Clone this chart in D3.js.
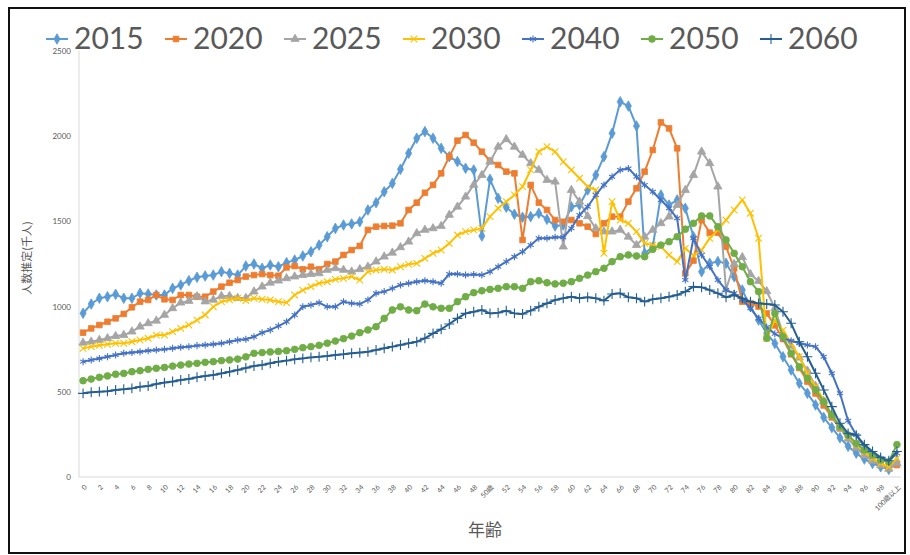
<!DOCTYPE html>
<html>
<head>
<meta charset="utf-8">
<script src="https://cdn.jsdelivr.net/npm/d3@7"></script>
<style>
  body { margin: 0; background: #fff; }
  text { font-family: Lato, "Noto Sans CJK JP", sans-serif; }
</style>
</head>
<body>
<svg id="chart" width="910" height="555"></svg>
<script>
// Age categories (0 .. 100+), one point per year of age
const categories = [
  "0","1","2","3","4","5","6","7","8","9",
  "10","11","12","13","14","15","16","17","18","19",
  "20","21","22","23","24","25","26","27","28","29",
  "30","31","32","33","34","35","36","37","38","39",
  "40","41","42","43","44","45","46","47","48","49",
  "50歳","51","52","53","54","55","56","57","58","59",
  "60","61","62","63","64","65","66","67","68","69",
  "70","71","72","73","74","75","76","77","78","79",
  "80","81","82","83","84","85","86","87","88","89",
  "90","91","92","93","94","95","96","97","98","99",
  "100歳以上"
];

// Population by age, thousands
const pop2015 = [
  961,1015,1049,1058,1072,1049,1049,1078,1074,1068,
  1068,1107,1127,1152,1172,1180,1185,1205,1195,1185,
  1238,1250,1225,1244,1234,1258,1273,1297,1322,1361,
  1410,1459,1479,1485,1498,1567,1610,1674,1723,1806,
  1900,1988,2027,1988,1929,1880,1851,1812,1802,1414,
  1747,1636,1583,1542,1524,1528,1548,1512,1473,1479,
  1586,1596,1684,1772,1880,2017,2202,2177,2060,1313,
  1350,1655,1596,1626,1577,1410,1205,1254,1264,1254,
  1175,1097,999,921,843,784,706,628,550,491,
  423,350,290,230,180,140,105,80,60,45,
  90
];
const pop2020 = [
  847,872,892,911,931,957,996,1029,1039,1068,
  1043,1039,1068,1068,1058,1058,1088,1117,1140,1156,
  1176,1185,1191,1185,1181,1230,1238,1219,1234,1219,
  1250,1264,1303,1332,1356,1450,1469,1473,1475,1489,
  1567,1610,1668,1714,1782,1880,1974,2007,1962,1909,
  1856,1831,1792,1782,1391,1714,1610,1567,1508,1498,
  1508,1489,1469,1426,1489,1528,1528,1616,1694,1792,
  1919,2081,2046,1929,1195,1270,1508,1434,1434,1352,
  1225,1029,1020,1000,960,890,810,720,640,560,
  490,420,350,285,230,180,135,100,72,52,
  70
];
const pop2025 = [
  788,794,804,814,827,833,853,882,902,917,
  951,990,1023,1033,1060,1030,1040,1062,1062,1050,
  1050,1088,1117,1140,1152,1166,1176,1185,1191,1195,
  1215,1225,1215,1205,1219,1234,1264,1293,1316,1348,
  1381,1430,1450,1459,1473,1538,1586,1645,1714,1772,
  1850,1938,1982,1938,1890,1841,1802,1743,1733,1352,
  1684,1616,1530,1459,1440,1440,1450,1410,1361,1410,
  1450,1489,1528,1596,1684,1772,1909,1841,1704,1100,
  1250,1290,1190,1150,1090,990,840,770,700,624,
  534,445,360,288,224,171,126,95,68,48,
  80
];
const pop2030 = [
  755,765,773,779,785,785,794,804,814,833,
  833,853,872,892,921,951,999,1029,1040,1049,
  1035,1049,1043,1039,1029,1023,1068,1097,1117,1137,
  1146,1160,1166,1176,1156,1205,1215,1219,1215,1234,
  1248,1254,1283,1313,1332,1371,1420,1440,1450,1459,
  1528,1577,1616,1655,1704,1802,1909,1938,1909,1850,
  1802,1753,1704,1684,1313,1616,1508,1489,1440,1371,
  1361,1352,1303,1264,1342,1300,1332,1400,1450,1508,
  1567,1626,1548,1401,814,921,862,785,706,609,
  530,452,364,295,240,190,145,110,80,60,
  110
];
const pop2040 = [
  677,687,696,706,716,726,730,735,741,745,
  749,755,761,765,771,775,779,785,794,804,
  808,823,847,863,886,911,951,999,1009,1023,
  999,999,1029,1019,1015,1039,1078,1088,1107,1127,
  1137,1146,1152,1146,1137,1191,1191,1185,1189,1185,
  1205,1234,1264,1293,1322,1361,1401,1401,1407,1407,
  1460,1538,1586,1655,1714,1762,1802,1811,1762,1714,
  1674,1626,1577,1518,1156,1401,1303,1234,1156,1097,
  1078,1040,990,930,880,840,815,800,785,775,
  765,706,609,491,330,246,178,139,110,90,
  140
];
const pop2050 = [
  565,575,585,593,603,608,618,624,632,638,
  643,651,657,663,667,673,677,683,687,692,
  705,726,730,734,737,741,749,759,765,773,
  785,798,812,827,847,863,882,931,980,999,
  980,976,1015,999,990,990,1029,1058,1082,1093,
  1101,1107,1117,1117,1107,1146,1152,1140,1133,1137,
  1146,1166,1185,1205,1225,1264,1293,1303,1297,1293,
  1336,1361,1381,1410,1454,1489,1532,1532,1469,1391,
  1313,1234,1146,1088,814,960,823,726,647,579,
  511,442,364,295,246,198,158,129,100,90,
  190
];
const pop2060 = [
  491,497,501,503,511,515,520,530,534,546,
  554,560,569,575,585,593,599,608,618,628,
  640,651,657,667,677,683,691,696,702,706,
  710,716,720,726,730,735,745,755,765,775,
  785,794,814,843,867,898,931,960,970,980,
  960,964,976,960,957,976,999,1019,1039,1049,
  1058,1049,1055,1049,1035,1074,1078,1055,1049,1029,
  1043,1049,1058,1068,1088,1117,1113,1097,1078,1055,
  1068,1049,1029,1019,1015,1009,970,902,794,706,
  609,511,413,315,256,246,190,150,115,95,
  150
];

const seriesNames = ["2015","2020","2025","2030","2040","2050","2060"];
const seriesValues = [pop2015, pop2020, pop2025, pop2030, pop2040, pop2050, pop2060];
const seriesColors = ["#5B9BD5","#ED7D31","#A5A5A5","#FFC000","#4472C4","#70AD47","#255E91"];
const yTicks = [0, 500, 1000, 1500, 2000, 2500];

const svg = d3.select("#chart");
svg.append("rect").attr("width", 910).attr("height", 555).attr("fill", "#fff");

// outer frame
svg.append("rect")
  .attr("x", 9).attr("y", 8).attr("width", 896).attr("height", 545)
  .attr("fill", "none").attr("stroke", "#111").attr("stroke-width", 2);

const plot = { left: 79, right: 901, top: 51, bottom: 477 };

const x = d3.scalePoint()
  .domain(categories)
  .range([plot.left, plot.right])
  .padding(0.5);

const y = d3.scaleLinear()
  .domain([0, 2500])
  .range([plot.bottom, plot.top]);

// axis lines
svg.append("line")
  .attr("x1", plot.left).attr("x2", plot.left)
  .attr("y1", plot.top).attr("y2", plot.bottom)
  .attr("stroke", "#d9d9d9").attr("stroke-width", 1);
svg.append("line")
  .attr("x1", plot.left).attr("x2", plot.right)
  .attr("y1", plot.bottom).attr("y2", plot.bottom)
  .attr("stroke", "#d9d9d9").attr("stroke-width", 1);

// y axis labels
const yAxis = d3.axisLeft(y).tickValues(yTicks).tickFormat(d3.format("d"))
  .tickSize(0).tickPadding(8);
const gy = svg.append("g").attr("transform", `translate(${plot.left},0)`).call(yAxis);
gy.select(".domain").remove();
gy.selectAll("text")
  .attr("fill", "#595959")
  .style("font-size", "8px")
  .style("font-family", "Lato, sans-serif");

// x axis labels, every second category, rotated
const xAxis = d3.axisBottom(x)
  .tickValues(categories.filter((d, i) => i % 2 === 0))
  .tickSize(0).tickPadding(0);
const gx = svg.append("g").attr("transform", `translate(0,${plot.bottom})`).call(xAxis);
gx.select(".domain").remove();
gx.selectAll("text")
  .attr("fill", "#595959")
  .style("font-size", "7px")
  .style("font-family", "Lato, 'Noto Sans CJK JP', sans-serif")
  .attr("text-anchor", "end")
  .attr("dy", "0.35em")
  .attr("transform", "translate(2,9) rotate(-45)");

// axis titles
svg.append("text")
  .attr("transform", "translate(31,258) rotate(-90)")
  .attr("text-anchor", "middle")
  .attr("fill", "#595959")
  .style("font-size", "11px")
  .style("font-family", "'Noto Sans CJK JP', sans-serif")
  .text("人数推定(千人)");

svg.append("text")
  .attr("x", 485).attr("y", 536)
  .attr("text-anchor", "middle")
  .attr("fill", "#595959")
  .style("font-size", "17px")
  .style("font-family", "'Noto Sans CJK JP', sans-serif")
  .text("年齢");

// marker shapes per series
const markerDefs = [
  { type: d3.symbolDiamond, size: 32, filled: true },
  { type: d3.symbolSquare, size: 32, filled: true },
  { type: d3.symbolTriangle, size: 30, filled: true },
  { type: d3.symbolTimes, size: 30, filled: false },
  { type: d3.symbolAsterisk, size: 34, filled: false },
  { type: d3.symbolCircle, size: 36, filled: true },
  { type: d3.symbolPlus, size: 34, filled: false }
];

function drawMarker(sel, i) {
  const m = markerDefs[i];
  sel.attr("d", d3.symbol().type(m.type).size(m.size))
    .attr("fill", m.filled ? seriesColors[i] : "none")
    .attr("stroke", seriesColors[i])
    .attr("stroke-width", m.filled ? 0.8 : 1.1);
}

const line = d3.line()
  .x((d, i) => x(categories[i]))
  .y(d => y(d));

seriesValues.forEach((vals, si) => {
  const g = svg.append("g").attr("class", "series s" + seriesNames[si]);
  g.append("path")
    .datum(vals)
    .attr("d", line)
    .attr("fill", "none")
    .attr("stroke", seriesColors[si])
    .attr("stroke-width", 2)
    .attr("stroke-linejoin", "round");
  g.selectAll("path.mk")
    .data(vals)
    .join("path")
    .attr("class", "mk")
    .attr("transform", (d, i) => `translate(${x(categories[i])},${y(d)})`)
    .call(drawMarker, si);
});

// legend
const legend = svg.append("g").attr("class", "legend");
seriesNames.forEach((name, i) => {
  const lx = 46 + i * 119;
  const ly = 39;
  const item = legend.append("g");
  item.append("line")
    .attr("x1", lx).attr("x2", lx + 22)
    .attr("y1", ly).attr("y2", ly)
    .attr("stroke", seriesColors[i]).attr("stroke-width", 2);
  item.append("path")
    .attr("transform", `translate(${lx + 11},${ly})`)
    .call(drawMarker, i);
  item.append("text")
    .attr("x", lx + 28).attr("y", ly + 10)
    .attr("fill", "#595959")
    .style("font-size", "30px")
    .style("font-family", "Lato, sans-serif")
    .text(name);
});
</script>
</body>
</html>
